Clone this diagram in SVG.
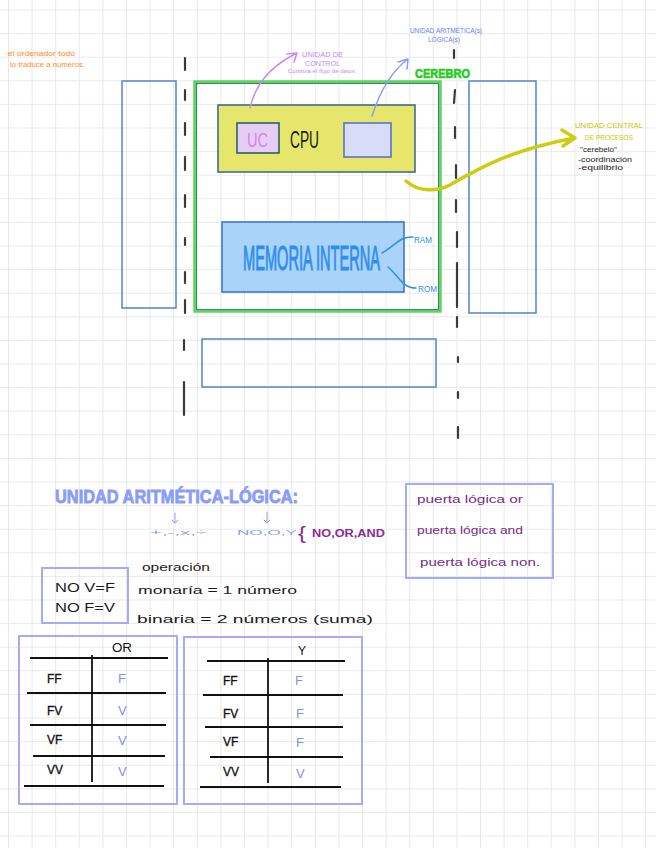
<svg xmlns="http://www.w3.org/2000/svg" width="656" height="848" viewBox="0 0 656 848">
<defs>
<pattern id="grid" x="8" y="9.5" width="23.6" height="23.6" patternUnits="userSpaceOnUse">
<path d="M0 0H23.6M0 0V23.6" fill="none" stroke="#e3e3e3" stroke-width="1.6"/>
</pattern>
<style>
.hw{font-family:"Liberation Sans","DejaVu Sans",sans-serif}
.blk{fill:#1a1a1a}
.box{fill:none;stroke:#5a8ccc;stroke-width:1.6}
.lbox{fill:none;stroke:#a4acf8;stroke-width:2}
.dash{fill:none;stroke:#3a3a3a;stroke-width:2.2;stroke-linecap:round}
.tl{stroke:#111;stroke-width:1.8;fill:none}
.val{fill:#7f8ff8;font-size:13px}
.row{font-size:12px;fill:#111;stroke:#111;stroke-width:0.3}
</style>
</defs>
<rect width="656" height="848" fill="#ffffff"/>
<rect width="656" height="848" fill="url(#grid)"/>

<g id="note-ordenador">
<text class="hw" x="5" y="56" font-size="7" fill="#ff8a1e" textLength="70" lengthAdjust="spacingAndGlyphs">·el ordenador todo</text>
<text class="hw" x="10" y="67" font-size="7" fill="#ff8a1e" textLength="75" lengthAdjust="spacingAndGlyphs">lo traduce a números.</text>
</g>

<g id="dashed-lines">
<path class="dash" d="M185 58V70M185 90V100M185 123V135M185 157V170M185 195V207M185 238V245M185 272V283M185 300V313M184 340V350M184 382V415"/>
<path class="dash" d="M454 50V58M455 90L454 103M455 127V138M456 165V178M456 200V212M457 232V247M457 263V307M457 317V327M458 357V362M458 392V398M458 427V438"/>
</g>

<g id="left-box"><rect class="box" x="122" y="81" width="54" height="227"/></g>
<g id="right-box"><rect class="box" x="469" y="81" width="67" height="232"/></g>
<g id="bottom-box"><rect class="box" x="202" y="339" width="234" height="48"/></g>

<g id="cerebro">
<rect x="195" y="82" width="245" height="229" fill="none" stroke="#5cd65c" stroke-width="3.5"/>
<rect x="196.5" y="83.5" width="242" height="226" fill="none" stroke="#2f6f6f" stroke-width="0.8"/>
<text class="hw" x="415" y="78" font-size="12" font-weight="bold" fill="#22cc22" stroke="#22cc22" stroke-width="0.6" textLength="55" lengthAdjust="spacingAndGlyphs">CEREBRO</text>
</g>

<g id="cpu">
<rect x="218" y="105" width="197" height="67" fill="#e6e66c" stroke="#3b6f8f" stroke-width="1.6"/>
<text class="hw blk" x="290" y="148" font-size="24" textLength="29" lengthAdjust="spacingAndGlyphs">CPU</text>
</g>
<g id="uc">
<rect x="237" y="123" width="42" height="30" fill="#e6cdf3" stroke="#2f5f6f" stroke-width="1.6"/>
<text class="hw" x="247" y="147" font-size="20" fill="#cc88ee" textLength="21" lengthAdjust="spacingAndGlyphs">UC</text>
</g>
<g id="alu-box">
<rect x="344" y="123" width="47" height="34" fill="#d9dcf8" stroke="#5a74c8" stroke-width="1.6"/>
</g>

<g id="memoria">
<rect x="222" y="222" width="182" height="70" fill="#a9d3f8" stroke="#3a78c0" stroke-width="1.6"/>
<text class="hw" transform="translate(243 270) scale(1 2.4)" x="0" y="0" font-size="14.5" fill="#2e8ef0" stroke="#2e8ef0" stroke-width="0.45" textLength="137" lengthAdjust="spacingAndGlyphs">MEMORIA INTERNA</text>
</g>
<g id="ram"><text class="hw" x="414" y="243" font-size="9" fill="#2e8ef0" textLength="18" lengthAdjust="spacingAndGlyphs">RAM</text></g>
<g id="rom"><text class="hw" x="418" y="292" font-size="9" fill="#2e8ef0" textLength="19" lengthAdjust="spacingAndGlyphs">ROM</text></g>

<g id="unidad-control">
<text class="hw" x="302" y="57" font-size="7" fill="#c888f0" textLength="41" lengthAdjust="spacingAndGlyphs">UNIDAD DE</text>
<text class="hw" x="305" y="66" font-size="7" fill="#c888f0" textLength="35" lengthAdjust="spacingAndGlyphs">CONTROL</text>
<text class="hw" x="288" y="73" font-size="4.5" fill="#c888f0" textLength="67" lengthAdjust="spacingAndGlyphs">Controla el flujo de datos</text>
</g>

<g id="unidad-alu">
<text class="hw" x="410" y="33" font-size="6.5" fill="#6a7cf0" textLength="72" lengthAdjust="spacingAndGlyphs">UNIDAD ARITMÉTICA(s)</text>
<text class="hw" x="428" y="42" font-size="6.5" fill="#6a7cf0" textLength="32" lengthAdjust="spacingAndGlyphs">LÓGICA(s)</text>
</g>

<g id="ucp">
<text class="hw" x="575" y="128" font-size="8" fill="#c8c800" textLength="68" lengthAdjust="spacingAndGlyphs">UNIDAD CENTRAL</text>
<text class="hw" x="585" y="140" font-size="8" fill="#c8c800" textLength="48" lengthAdjust="spacingAndGlyphs">DE PROCESOS</text>
<text class="hw blk" x="580" y="152" font-size="6.5" textLength="37" lengthAdjust="spacingAndGlyphs">"cerebelo"</text>
<text class="hw blk" x="578" y="162" font-size="6.5" textLength="54" lengthAdjust="spacingAndGlyphs">-coordinación</text>
<text class="hw blk" x="578" y="170" font-size="6.5" textLength="45" lengthAdjust="spacingAndGlyphs">-equilibrio</text>
</g>

<g id="connectors" fill="none" stroke-linecap="round" stroke-linejoin="round">
<path d="M250 108Q258 72 297 53M297 53L287 54M297 53L294 62" stroke="#c98af0" stroke-width="1.5"/>
<path d="M372 116Q385 76 408 59M408 59L398 62M408 59L407 69" stroke="#8a9cf8" stroke-width="1.5"/>
<path d="M382 253C395 246 400 236 413 237" stroke="#2e8ef0" stroke-width="1.5"/>
<path d="M388 267C398 275 402 288 416 288" stroke="#2e8ef0" stroke-width="1.5"/>
<path d="M406 181C418 192 436 192 450 185C480 168 510 150 575 138M575 138L562 130M575 138L563 146" stroke="#cccc10" stroke-width="3.5"/>
<path d="M175 513V523M172 520L175 523L178 520M267 512V523M264 520L267 523L270 520" stroke="#8a9cf8" stroke-width="1"/>
</g>

<g id="alu-title">
<text class="hw" x="55" y="503" font-size="19" font-weight="bold" fill="#8a9cf8" stroke="#8a9cf8" stroke-width="0.8" textLength="243" lengthAdjust="spacingAndGlyphs">UNIDAD ARITMÉTICA-LÓGICA:</text>
<text class="hw" x="150" y="535" font-size="8" fill="#8a9cf8" textLength="57" lengthAdjust="spacingAndGlyphs">+,-,x,÷</text>
<text class="hw" x="237" y="535" font-size="8" fill="#8a9cf8" textLength="60" lengthAdjust="spacingAndGlyphs">NO,O,Y</text>
<text class="hw" x="298" y="539" font-size="18" fill="#8a2a9a" textLength="8" lengthAdjust="spacingAndGlyphs">{</text>
<text class="hw" x="312" y="537" font-size="10" font-weight="bold" fill="#8a2a9a" textLength="73" lengthAdjust="spacingAndGlyphs">NO,OR,AND</text>
</g>

<g id="puertas">
<rect class="lbox" x="406" y="484" width="147" height="94"/>
<text class="hw" x="417" y="503" font-size="11" fill="#7a2a8a" textLength="106" lengthAdjust="spacingAndGlyphs">puerta lógica or</text>
<text class="hw" x="417" y="534" font-size="11" fill="#7a2a8a" textLength="106" lengthAdjust="spacingAndGlyphs">puerta lógica and</text>
<text class="hw" x="420" y="566" font-size="11" fill="#7a2a8a" textLength="120" lengthAdjust="spacingAndGlyphs">puerta lógica non.</text>
</g>

<g id="no-box">
<rect class="lbox" x="42" y="568" width="86" height="55"/>
<text class="hw blk" x="55" y="592" font-size="12" textLength="60" lengthAdjust="spacingAndGlyphs">NO  V=F</text>
<text class="hw blk" x="55" y="612" font-size="12" textLength="60" lengthAdjust="spacingAndGlyphs">NO  F=V</text>
</g>

<g id="operacion">
<text class="hw blk" x="142" y="571" font-size="11" textLength="68" lengthAdjust="spacingAndGlyphs">operación</text>
<text class="hw blk" x="138" y="594" font-size="11" textLength="159" lengthAdjust="spacingAndGlyphs">monaría = 1 número</text>
<text class="hw blk" x="137" y="623" font-size="11" textLength="236" lengthAdjust="spacingAndGlyphs">binaria = 2 números   (suma)</text>
</g>

<g id="tabla-or">
<rect class="lbox" x="19" y="636" width="158" height="168"/>
<text class="hw" x="112" y="652" font-size="12" fill="#111" textLength="20" lengthAdjust="spacingAndGlyphs">OR</text>
<path class="tl" d="M30 658H168M27 693H166M30 725H166M33 756H165M24 786H164M92 655V782"/>
<text class="hw row" x="47" y="683">FF</text>
<text class="hw row" x="47" y="715">FV</text>
<text class="hw row" x="47" y="744">VF</text>
<text class="hw row" x="47" y="774">VV</text>
<text class="hw val" x="118" y="683">F</text>
<text class="hw val" x="118" y="715">V</text>
<text class="hw val" x="118" y="745">V</text>
<text class="hw val" x="118" y="776">V</text>
</g>

<g id="tabla-y">
<rect class="lbox" x="184" y="637" width="178" height="167"/>
<text class="hw" x="298" y="655" font-size="12" fill="#111">Y</text>
<path class="tl" d="M207 661H345M203 695H343M205 727H343M210 757H343M200 787H341M268 658V783"/>
<text class="hw row" x="223" y="685">FF</text>
<text class="hw row" x="223" y="718">FV</text>
<text class="hw row" x="223" y="746">VF</text>
<text class="hw row" x="223" y="776">VV</text>
<text class="hw val" x="295" y="685">F</text>
<text class="hw val" x="296" y="718">F</text>
<text class="hw val" x="296" y="747">F</text>
<text class="hw val" x="296" y="778">V</text>
</g>
</svg>
